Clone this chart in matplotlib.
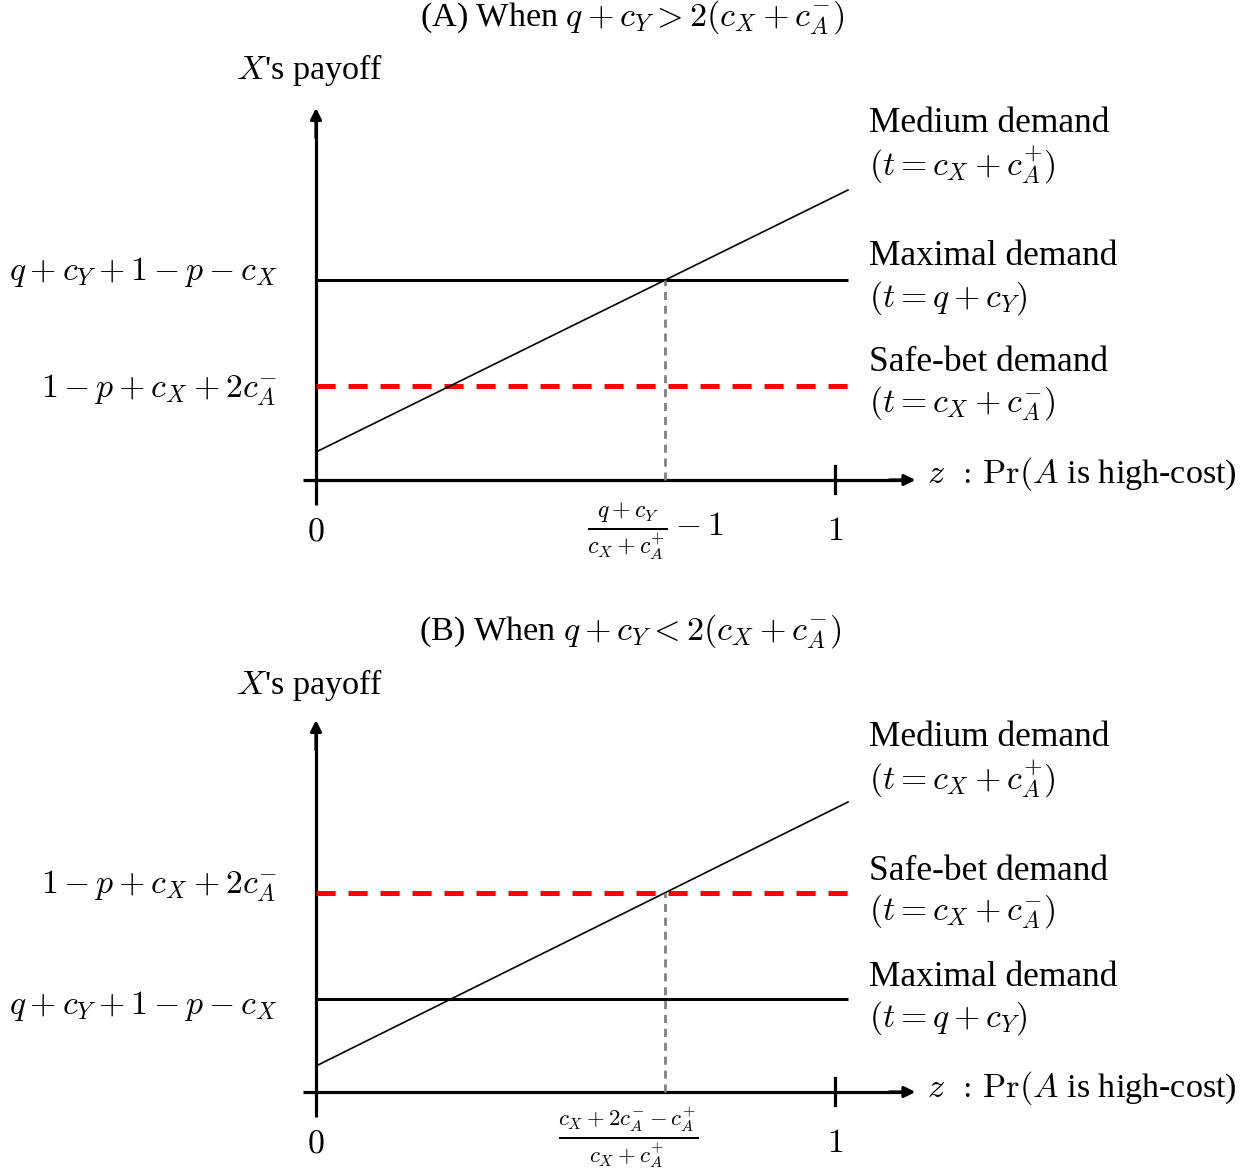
import matplotlib
matplotlib.use("Agg")
import matplotlib.pyplot as plt

# ---------------- data ----------------
z_ticks = [0, 1]
z_tick_labels = ["0", "1"]
z_line_end = 1.025            # where the payoff lines stop
z_axis_end = 1.155            # arrow tip of horizontal axis
payoff_axis_top = 3.72        # arrow tip of vertical axis

titles = [r"(A) When $q + c_Y > 2(c_X + c_A^{-})$",
          r"(B) When $q + c_Y < 2(c_X + c_A^{-})$"]

# panel A levels (arbitrary payoff units)
maximal_A = 2.00
safe_A = 0.94
medium_A = [0.28, 2.90]       # values at z = 0 and z = z_line_end
# panel B levels
maximal_B = 0.93
safe_B = 1.99
medium_B = [0.26, 2.90]

ylab_max = r"$q + c_Y + 1 - p - c_X$"
ylab_safe = r"$1 - p + c_X + 2c_A^{-}$"
cross_label_A = r"$\frac{q+c_Y}{c_X+c_A^{+}} - 1$"
cross_label_B = r"$\frac{c_X+2c_A^{-}-c_A^{+}}{c_X+c_A^{+}}$"
z_axis_label = r"$z\;\,:\,\mathrm{Pr}(A$ is high-cost)"

name_medium = ["Medium demand", r"$(t = c_X + c_A^{+})$"]
name_maximal = ["Maximal demand", r"$(t = q + c_Y)$"]
name_safe = ["Safe-bet demand", r"$(t = c_X + c_A^{-})$"]

# ---------------- style ----------------
plt.rcParams["font.family"] = ["Liberation Serif", "DejaVu Serif"]
plt.rcParams["mathtext.fontset"] = "cm"
FS_M = 24.3     # math
FS_T = 25.5     # plain text
FS_X = 24.6     # mixed

W, H = 1248, 1171
fig = plt.figure(figsize=(W / 100, H / 100), dpi=100)

PX_X = 519.0   # px per unit z
PX_Y = 100.0   # px per payoff unit


def make_axes(top_px, bot_px, base_px):
    ax = fig.add_axes([0, 1 - bot_px / H, 1, (bot_px - top_px) / H])
    ax.set_xlim(-316 / PX_X, (W - 316) / PX_X)
    ax.set_ylim((base_px - bot_px) / PX_Y, (base_px - top_px) / PX_Y)
    ax.axis("off")
    return ax


def draw_panel(ax, maximal, safe, medium, safe_on_top):
    # axes
    ax.plot([-0.025, z_axis_end - 0.02], [0, 0], color="black", lw=2.3,
            solid_capstyle="butt")
    ax.annotate("", xy=(z_axis_end, 0), xytext=(z_axis_end - 0.05, 0),
                arrowprops=dict(arrowstyle="-|>", color="black", lw=2.3,
                                mutation_scale=16, shrinkA=0, shrinkB=0))
    ax.plot([0, 0], [-0.25, payoff_axis_top - 0.1], color="black", lw=2.3,
            solid_capstyle="butt")
    ax.annotate("", xy=(0, payoff_axis_top), xytext=(0, payoff_axis_top - 0.3),
                arrowprops=dict(arrowstyle="-|>", color="black", lw=2.3,
                                mutation_scale=16, shrinkA=0, shrinkB=0))
    # tick at z = 1
    ax.plot([z_ticks[1], z_ticks[1]], [-0.13, 0.14], color="black", lw=2.3)

    # lines
    ax.plot([0, z_line_end], [maximal, maximal], color="black", lw=2.2,
            solid_capstyle="butt")
    ax.plot([0, z_line_end], [safe, safe], color="#ff0000", lw=3.6,
            dashes=(3.8, 2.6), dash_capstyle="butt")
    ax.plot([0, z_line_end], medium, color="black", lw=1.2)

    # crossing
    level = safe if safe_on_top else maximal
    slope = (medium[1] - medium[0]) / z_line_end
    zc = (level - medium[0]) / slope
    ax.plot([zc, zc], [0, level], color="#808080", lw=2.0,
            dashes=(2.9, 2.1), dash_capstyle="butt")

    # tick labels
    for zt, lab in zip(z_ticks, z_tick_labels):
        ax.text(zt, -0.52, r"$%s$" % lab, fontsize=FS_M, ha="center", va="center")
    return zc


fx = lambda px: (px - 316) / PX_X

# ---------------- panel A ----------------
axA = make_axes(0, 585, 480)
zcA = draw_panel(axA, maximal_A, safe_A, medium_A, False)
fA = lambda px: (480 - px) / PX_Y
axA.text(fx(632), fA(18), titles[0], fontsize=FS_X, ha="center", va="center")
axA.text(fx(310), fA(70), r"$X$'s payoff", fontsize=FS_X, ha="center", va="center")
axA.text(fx(277), fA(272), ylab_max, fontsize=FS_M, ha="right", va="center")
axA.text(fx(277), fA(390), ylab_safe, fontsize=FS_M, ha="right", va="center")
axA.text(zcA - 0.02, -0.52, cross_label_A, fontsize=FS_M, ha="center", va="center")
axA.text(fx(927), fA(474), z_axis_label, fontsize=FS_X, ha="left", va="center")
for (l1, l2), (y1, y2) in zip([name_medium, name_maximal, name_safe],
                              [(124, 165), (257, 298), (363, 404)]):
    axA.text(fx(869), fA(y1), l1, fontsize=FS_T, ha="left", va="center")
    axA.text(fx(869), fA(y2), l2, fontsize=FS_M, ha="left", va="center")

# ---------------- panel B ----------------
axB = make_axes(585, 1171, 1092)
zcB = draw_panel(axB, maximal_B, safe_B, medium_B, True)
fB = lambda px: (1092 - px) / PX_Y
axB.text(fx(630), fB(632), titles[1], fontsize=FS_X, ha="center", va="center")
axB.text(fx(310), fB(685), r"$X$'s payoff", fontsize=FS_X, ha="center", va="center")
axB.text(fx(277), fB(886), ylab_safe, fontsize=FS_M, ha="right", va="center")
axB.text(fx(277), fB(1006), ylab_max, fontsize=FS_M, ha="right", va="center")
axB.text(zcB - 0.07, fB(1137), cross_label_B, fontsize=FS_M - 0.8,
         ha="center", va="center")
axB.text(fx(927), fB(1088), z_axis_label, fontsize=FS_X, ha="left", va="center")
for (l1, l2), (y1, y2) in zip([name_medium, name_safe, name_maximal],
                              [(738, 779), (871, 912), (977, 1018)]):
    axB.text(fx(869), fB(y1), l1, fontsize=FS_T, ha="left", va="center")
    axB.text(fx(869), fB(y2), l2, fontsize=FS_M, ha="left", va="center")

fig.savefig("out.png", dpi=100)
